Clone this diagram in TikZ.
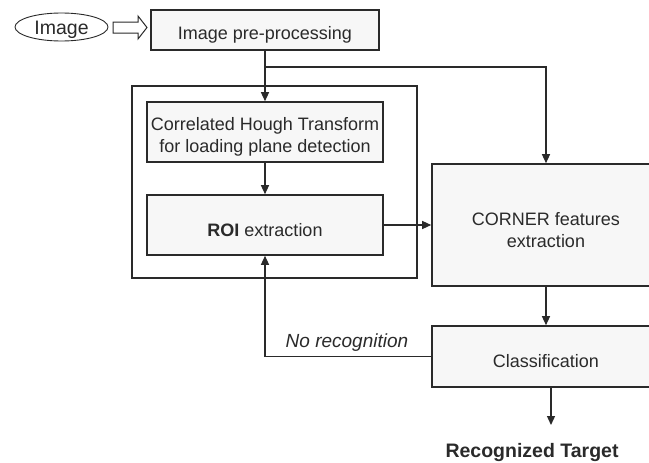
\documentclass[tikz,border=0pt]{standalone}
\usepackage{fontspec}
\setmainfont{Liberation Sans}
\usetikzlibrary{arrows.meta,shapes.geometric}
\definecolor{ink}{HTML}{2A2A2A}
\definecolor{boxfill}{HTML}{F7F7F7}
\begin{document}
\begin{tikzpicture}[x=1pt,y=-1pt,
  every node/.style={text=ink},
  txt/.style={font=\fontsize{18}{22}\selectfont, align=center, text=ink},
  procbox/.style={draw=ink, line width=1.6pt, fill=boxfill, rectangle, inner sep=0pt},
  caption/.style={label={[txt, yshift=-5pt]center:#1}},
  link/.style={draw=ink, line width=1.3pt},
  arr/.style={link, -{Triangle[length=9pt,width=8pt]}}]
\useasboundingbox (0,0) rectangle (649,463);
\clip (0,0) rectangle (649,463);
\fill[white] (0,0) rectangle (649,463);

% input and pre-processing
\node[ellipse, draw=ink, line width=0.9pt, minimum width=93pt, minimum height=28pt, inner sep=0pt,
      label={[font=\fontsize{19.5}{22}\selectfont, text=ink, yshift=-3pt]center:Image}] (img) at (61.5,27) {};
\draw[draw=ink, line width=1pt, fill=white]
  (113,22) -- (138,22) -- (138,16) -- (147,27.5) -- (138,39) -- (138,33) -- (113,33) -- cycle;
\node[procbox, minimum width=228pt, minimum height=40pt, caption={Image pre-processing}] (pre) at (265,30) {};

% region-of-interest stage
\node[draw=ink, line width=1.6pt, fill=white, minimum width=285pt, minimum height=192pt, inner sep=0pt]
  (frame) at (274.5,182) {};
\node[procbox, minimum width=236pt, minimum height=60pt,
      caption={Correlated Hough Transform\\for loading plane detection}] (hough) at (265,132) {};
\node[procbox, minimum width=236pt, minimum height=60pt,
      caption={\textbf{ROI} extraction}] (roi) at (265,225) {};

% feature and classification stage
\node[procbox, minimum width=228pt, minimum height=122pt,
      caption={CORNER features\\extraction}] (corner) at (546,225) {};
\node[procbox, minimum width=228pt, minimum height=61pt,
      caption={Classification}] (cls) at (546,356.5) {};

\node[font=\bfseries\fontsize{19.5}{22}\selectfont] (target) at (532,452) {Recognized Target};
\node[font=\itshape\fontsize{19}{22}\selectfont] (norec) at (347,343) {No recognition};

% connectors
\coordinate (branch) at (265,67);
\coordinate (outtip) at (551,425);
\draw[arr] (pre.south) -- (hough.north);
\draw[arr] (branch) -| (corner.north);
\draw[arr] (hough.south) -- (roi.north);
\draw[arr] (roi.east) -- (corner.west);
\draw[arr] (corner.south) -- (cls.north);
\draw[arr] (cls.west) -| (roi.south);
\draw[arr] ([xshift=5pt]cls.south) -- (outtip);
\end{tikzpicture}
\end{document}
